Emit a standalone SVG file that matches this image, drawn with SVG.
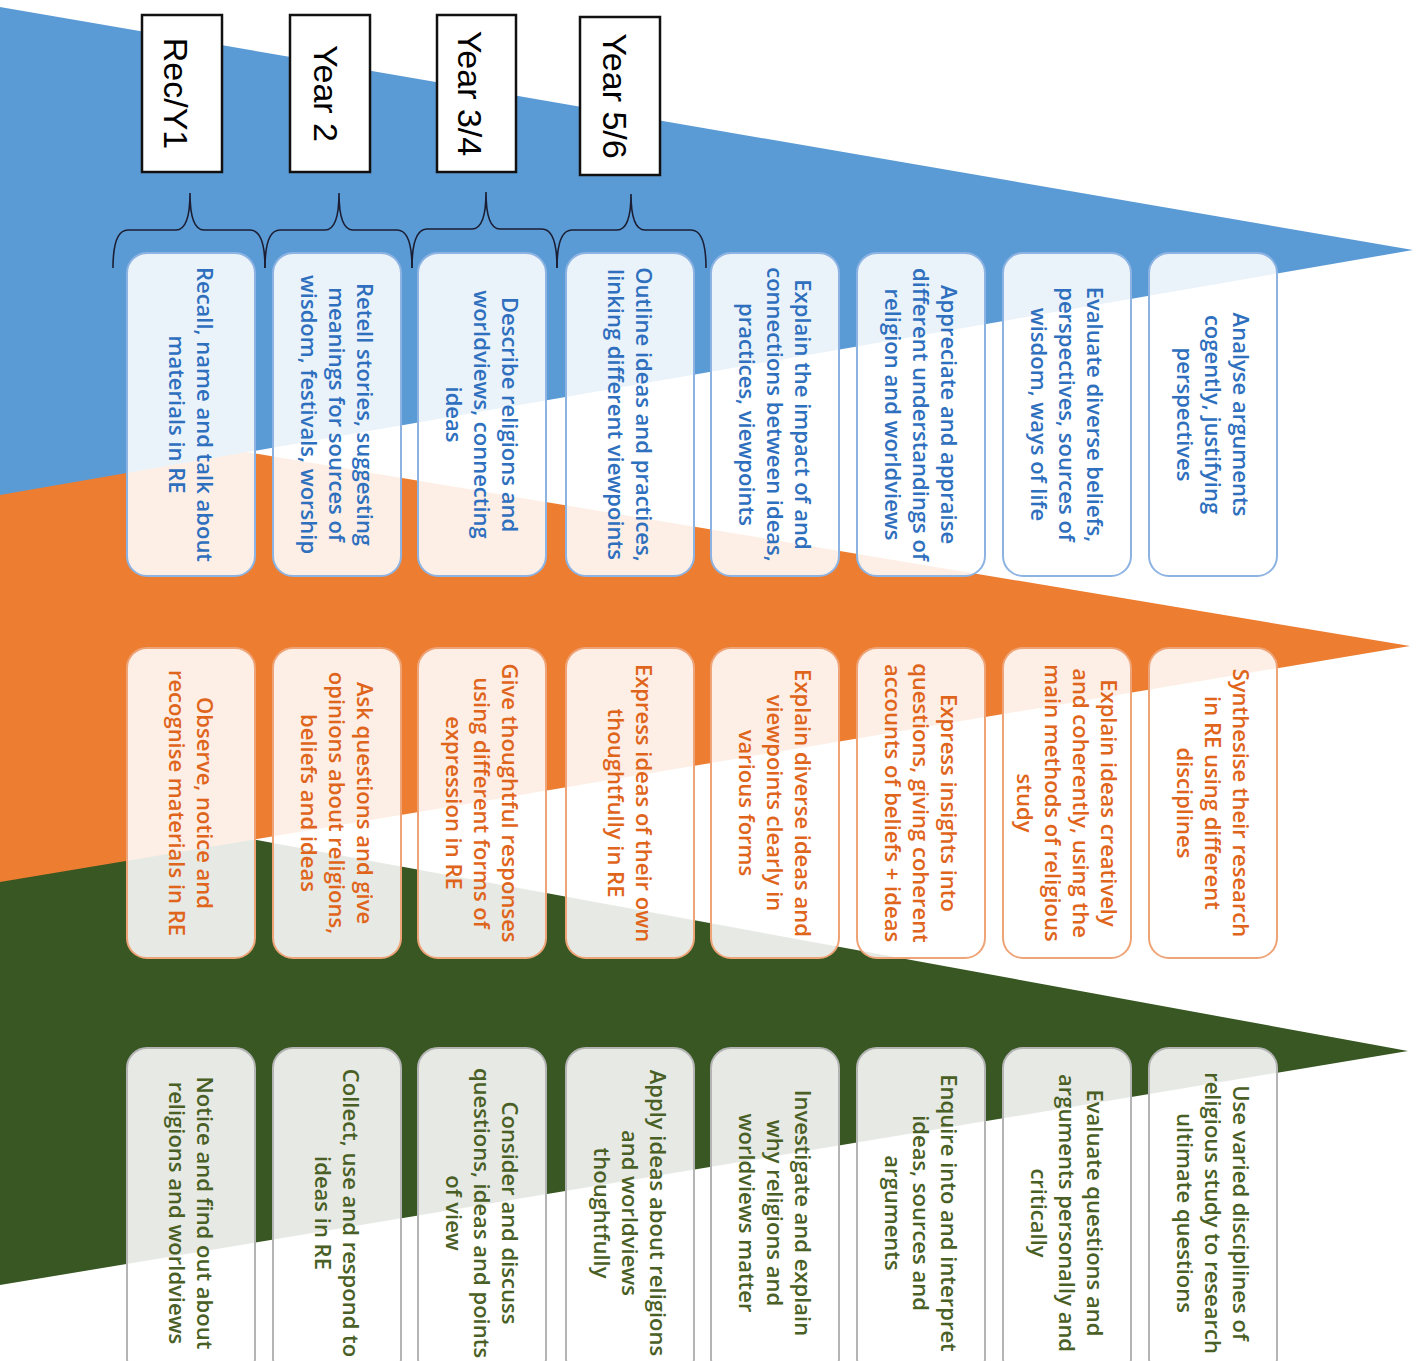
<svg xmlns="http://www.w3.org/2000/svg" width="1425" height="1361" viewBox="0 0 1425 1361">
<style>
.bg{fill:#ffffff}
.w-blue{fill:#5B9BD5}
.w-orange{fill:#ED7D31}
.w-green{fill:#385723}
.box rect{fill:#ffffff;fill-opacity:0.88;stroke-width:2}
.box text{font-family:"Open Sans","Noto Sans",sans-serif;font-size:22px;font-weight:600;text-anchor:middle}
.r1 rect{stroke:#8DB3E2}
.r1 text{fill:#2E6FBE}
.r2 rect{stroke:#EFA478}
.r2 text{fill:#E0651C}
.r3 rect{stroke:#B4B4B4}
.r3 text{fill:#4A5F26}
.yr rect{fill:#ffffff;stroke:#111111;stroke-width:2.5}
.yr text{font-family:"Liberation Sans",Arial,sans-serif;font-size:34px;fill:#000000;text-anchor:middle}
.brace{fill:none;stroke:#1B1E33;stroke-width:1.6}
</style>
<rect class="bg" x="0" y="0" width="1425" height="1361"/>
<g id="wedges">
<path class="w-green" d="M0,793 L1408,1051 L0,1285 Z"/>
<path class="w-orange" d="M0,411 L1410,646 L0,882 Z"/>
<path class="w-blue" d="M0,7 L1413,250 L0,495 Z"/>
</g>
<g id="connectors">
<path class="brace" d="M113,268 Q113,230 128,230 L176,230 Q190,230 190,193 Q190,230 204,230 L250,230 Q265,230 265,268"/>
<path class="brace" d="M265,268 Q265,230 280,230 L325,230 Q339,230 339,193 Q339,230 353,230 L397,230 Q412,230 412,268"/>
<path class="brace" d="M412,268 Q412,229 427,229 L472,229 Q486,229 486,192 Q486,229 500,229 L542,229 Q557,229 557,268"/>
<path class="brace" d="M557,268 Q557,230 572,230 L617,230 Q631,230 631,194 Q631,230 645,230 L691,230 Q706,230 706,268"/>
</g>
<g id="year-rec-y1" class="yr"><rect x="142" y="15" width="80" height="157"/><text transform="translate(164,93.5) rotate(90)">Rec/Y1</text></g>
<g id="year-2" class="yr"><rect x="290" y="15" width="80" height="157"/><text transform="translate(314,93.5) rotate(90)">Year 2</text></g>
<g id="year-3-4" class="yr"><rect x="437" y="15" width="79" height="157"/><text transform="translate(458,93.5) rotate(90)">Year 3/4</text></g>
<g id="year-5-6" class="yr"><rect x="580" y="17" width="80" height="158"/><text transform="translate(603,96) rotate(90)">Year 5/6</text></g>

<g id="r1c1" class="box r1"><rect x="127" y="253" width="128" height="323" rx="20"/><text transform="translate(191,414.5) rotate(90)"><tspan x="0" y="-5.85">Recall, name and talk about</tspan><tspan x="0" y="21.85">materials in RE</tspan></text></g>
<g id="r1c2" class="box r1"><rect x="273" y="253" width="128" height="323" rx="20"/><text transform="translate(337,414.5) rotate(90)"><tspan x="0" y="-19.7">Retell stories, suggesting</tspan><tspan x="0" y="8">meanings for sources of</tspan><tspan x="0" y="35.7">wisdom, festivals, worship</tspan></text></g>
<g id="r1c3" class="box r1"><rect x="418" y="253" width="128" height="323" rx="20"/><text transform="translate(482,414.5) rotate(90)"><tspan x="0" y="-19.7">Describe religions and</tspan><tspan x="0" y="8">worldviews, connecting</tspan><tspan x="0" y="35.7">ideas</tspan></text></g>
<g id="r1c4" class="box r1"><rect x="566" y="253" width="128" height="323" rx="20"/><text transform="translate(630,414.5) rotate(90)"><tspan x="0" y="-5.85">Outline ideas and practices,</tspan><tspan x="0" y="21.85">linking different viewpoints</tspan></text></g>
<g id="r1c5" class="box r1"><rect x="711" y="253" width="128" height="323" rx="20"/><text transform="translate(775,414.5) rotate(90)"><tspan x="0" y="-19.7">Explain the impact of and</tspan><tspan x="0" y="8">connections between ideas,</tspan><tspan x="0" y="35.7">practices, viewpoints</tspan></text></g>
<g id="r1c6" class="box r1"><rect x="857" y="253" width="128" height="323" rx="20"/><text transform="translate(921,414.5) rotate(90)"><tspan x="0" y="-19.7">Appreciate and appraise</tspan><tspan x="0" y="8">different understandings of</tspan><tspan x="0" y="35.7">religion and worldviews</tspan></text></g>
<g id="r1c7" class="box r1"><rect x="1003" y="253" width="128" height="323" rx="20"/><text transform="translate(1067,414.5) rotate(90)"><tspan x="0" y="-19.7">Evaluate diverse beliefs,</tspan><tspan x="0" y="8">perspectives, sources of</tspan><tspan x="0" y="35.7">wisdom, ways of life</tspan></text></g>
<g id="r1c8" class="box r1"><rect x="1149" y="253" width="128" height="323" rx="20"/><text transform="translate(1213,414.5) rotate(90)"><tspan x="0" y="-19.7">Analyse arguments</tspan><tspan x="0" y="8">cogently, justifying</tspan><tspan x="0" y="35.7">perspectives</tspan></text></g>

<g id="r2c1" class="box r2"><rect x="127" y="648" width="128" height="310" rx="20"/><text transform="translate(191,803) rotate(90)"><tspan x="0" y="-5.85">Observe, notice and</tspan><tspan x="0" y="21.85">recognise materials in RE</tspan></text></g>
<g id="r2c2" class="box r2"><rect x="273" y="648" width="128" height="310" rx="20"/><text transform="translate(337,803) rotate(90)"><tspan x="0" y="-19.7">Ask questions and give</tspan><tspan x="0" y="8">opinions about religions,</tspan><tspan x="0" y="35.7">beliefs and ideas</tspan></text></g>
<g id="r2c3" class="box r2"><rect x="418" y="648" width="128" height="310" rx="20"/><text transform="translate(482,803) rotate(90)"><tspan x="0" y="-19.7">Give thoughtful responses</tspan><tspan x="0" y="8">using different forms of</tspan><tspan x="0" y="35.7">expression in RE</tspan></text></g>
<g id="r2c4" class="box r2"><rect x="566" y="648" width="128" height="310" rx="20"/><text transform="translate(630,803) rotate(90)"><tspan x="0" y="-5.85">Express ideas of their own</tspan><tspan x="0" y="21.85">thoughtfully in RE</tspan></text></g>
<g id="r2c5" class="box r2"><rect x="711" y="648" width="128" height="310" rx="20"/><text transform="translate(775,803) rotate(90)"><tspan x="0" y="-19.7">Explain diverse ideas and</tspan><tspan x="0" y="8">viewpoints clearly in</tspan><tspan x="0" y="35.7">various forms</tspan></text></g>
<g id="r2c6" class="box r2"><rect x="857" y="648" width="128" height="310" rx="20"/><text transform="translate(921,803) rotate(90)"><tspan x="0" y="-19.7">Express insights into</tspan><tspan x="0" y="8">questions, giving coherent</tspan><tspan x="0" y="35.7">accounts of beliefs + ideas</tspan></text></g>
<g id="r2c7" class="box r2"><rect x="1003" y="648" width="128" height="310" rx="20"/><text transform="translate(1067,803) rotate(90)"><tspan x="0" y="-33.55">Explain ideas creatively</tspan><tspan x="0" y="-5.85">and coherently, using the</tspan><tspan x="0" y="21.85">main methods of religious</tspan><tspan x="0" y="49.55">study</tspan></text></g>
<g id="r2c8" class="box r2"><rect x="1149" y="648" width="128" height="310" rx="20"/><text transform="translate(1213,803) rotate(90)"><tspan x="0" y="-19.7">Synthesise their research</tspan><tspan x="0" y="8">in RE using different</tspan><tspan x="0" y="35.7">disciplines</tspan></text></g>

<g id="r3c1" class="box r3"><rect x="127" y="1048" width="128" height="330" rx="20"/><text transform="translate(191,1213) rotate(90)"><tspan x="0" y="-5.85">Notice and find out about</tspan><tspan x="0" y="21.85">religions and worldviews</tspan></text></g>
<g id="r3c2" class="box r3"><rect x="273" y="1048" width="128" height="330" rx="20"/><text transform="translate(337,1213) rotate(90)"><tspan x="0" y="-5.85">Collect, use and respond to</tspan><tspan x="0" y="21.85">ideas in RE</tspan></text></g>
<g id="r3c3" class="box r3"><rect x="418" y="1048" width="128" height="330" rx="20"/><text transform="translate(482,1213) rotate(90)"><tspan x="0" y="-19.7">Consider and discuss</tspan><tspan x="0" y="8">questions, ideas and points</tspan><tspan x="0" y="35.7">of view</tspan></text></g>
<g id="r3c4" class="box r3"><rect x="566" y="1048" width="128" height="330" rx="20"/><text transform="translate(630,1213) rotate(90)"><tspan x="0" y="-19.7">Apply ideas about religions</tspan><tspan x="0" y="8">and worldviews</tspan><tspan x="0" y="35.7">thoughtfully</tspan></text></g>
<g id="r3c5" class="box r3"><rect x="711" y="1048" width="128" height="330" rx="20"/><text transform="translate(775,1213) rotate(90)"><tspan x="0" y="-19.7">Investigate and explain</tspan><tspan x="0" y="8">why religions and</tspan><tspan x="0" y="35.7">worldviews matter</tspan></text></g>
<g id="r3c6" class="box r3"><rect x="857" y="1048" width="128" height="330" rx="20"/><text transform="translate(921,1213) rotate(90)"><tspan x="0" y="-19.7">Enquire into and interpret</tspan><tspan x="0" y="8">ideas, sources and</tspan><tspan x="0" y="35.7">arguments</tspan></text></g>
<g id="r3c7" class="box r3"><rect x="1003" y="1048" width="128" height="330" rx="20"/><text transform="translate(1067,1213) rotate(90)"><tspan x="0" y="-19.7">Evaluate questions and</tspan><tspan x="0" y="8">arguments personally and</tspan><tspan x="0" y="35.7">critically</tspan></text></g>
<g id="r3c8" class="box r3"><rect x="1149" y="1048" width="128" height="330" rx="20"/><text transform="translate(1213,1213) rotate(90)"><tspan x="0" y="-19.7">Use varied disciplines of</tspan><tspan x="0" y="8">religious study to research</tspan><tspan x="0" y="35.7">ultimate questions</tspan></text></g>
</svg>
